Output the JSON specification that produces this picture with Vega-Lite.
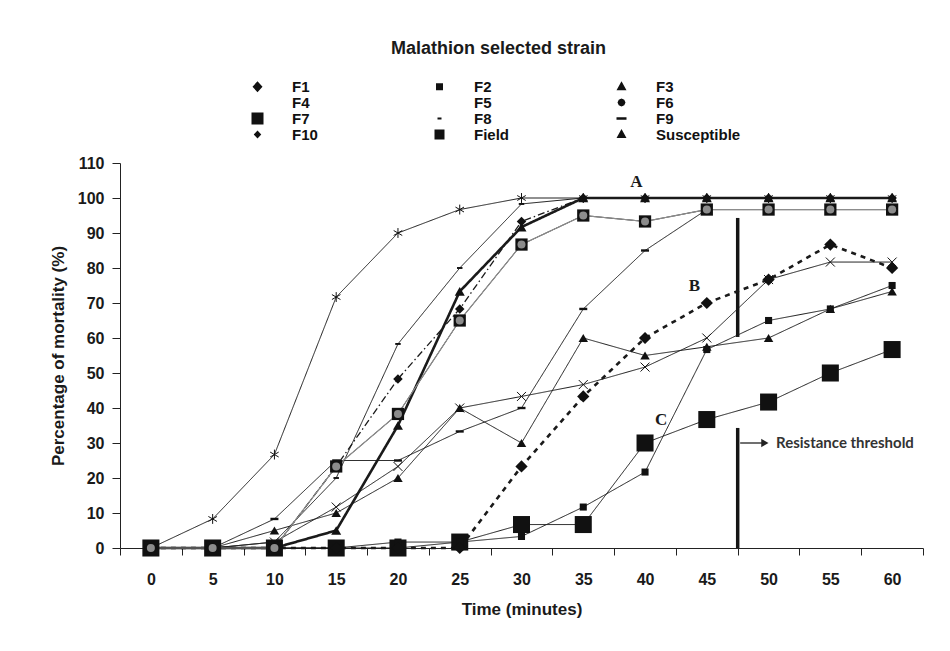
{
  "$schema": "https://vega.github.io/schema/vega-lite/v6.json",
  "width": 803,
  "height": 385,
  "autosize": {"type": "none"},
  "padding": {"left": 120, "top": 163, "right": 27, "bottom": 103},
  "background": "white",
  "config": {"view": {"stroke": null}, "font": "Liberation Sans"},
  "title": {"text": "Malathion selected strain", "font": "Liberation Sans", "fontSize": 18, "fontWeight": "bold", "color": "#1a1a1a", "anchor": "middle", "dx": -23, "offset": 21},
  "datasets": {
    "mort": [
      {"s":"F7","t":0,"v":0},{"s":"F7","t":5,"v":0},{"s":"F7","t":10,"v":0},{"s":"F7","t":15,"v":0},{"s":"F7","t":20,"v":0},{"s":"F7","t":25,"v":1.7},{"s":"F7","t":30,"v":6.7},{"s":"F7","t":35,"v":6.7},{"s":"F7","t":40,"v":30},{"s":"F7","t":45,"v":36.7},{"s":"F7","t":50,"v":41.7},{"s":"F7","t":55,"v":50},{"s":"F7","t":60,"v":56.7},
      {"s":"Field","t":0,"v":0},{"s":"Field","t":5,"v":0},{"s":"Field","t":10,"v":0},{"s":"Field","t":15,"v":23.3},{"s":"Field","t":20,"v":38.3},{"s":"Field","t":25,"v":65},{"s":"Field","t":30,"v":86.7},{"s":"Field","t":35,"v":95},{"s":"Field","t":40,"v":93.3},{"s":"Field","t":45,"v":96.7},{"s":"Field","t":50,"v":96.7},{"s":"Field","t":55,"v":96.7},{"s":"Field","t":60,"v":96.7},
      {"s":"F1","t":0,"v":0},{"s":"F1","t":5,"v":0},{"s":"F1","t":10,"v":0},{"s":"F1","t":15,"v":0},{"s":"F1","t":20,"v":0},{"s":"F1","t":25,"v":0},{"s":"F1","t":30,"v":23.3},{"s":"F1","t":35,"v":43.3},{"s":"F1","t":40,"v":60},{"s":"F1","t":45,"v":70},{"s":"F1","t":50,"v":76.7},{"s":"F1","t":55,"v":86.7},{"s":"F1","t":60,"v":80},
      {"s":"F2","t":0,"v":0},{"s":"F2","t":5,"v":0},{"s":"F2","t":10,"v":0},{"s":"F2","t":15,"v":0},{"s":"F2","t":20,"v":1.7},{"s":"F2","t":25,"v":1.7},{"s":"F2","t":30,"v":3.3},{"s":"F2","t":35,"v":11.7},{"s":"F2","t":40,"v":21.7},{"s":"F2","t":45,"v":56.7},{"s":"F2","t":50,"v":65},{"s":"F2","t":55,"v":68.3},{"s":"F2","t":60,"v":75},
      {"s":"F3","t":0,"v":0},{"s":"F3","t":5,"v":0},{"s":"F3","t":10,"v":5},{"s":"F3","t":15,"v":10},{"s":"F3","t":20,"v":20},{"s":"F3","t":25,"v":40},{"s":"F3","t":30,"v":30},{"s":"F3","t":35,"v":60},{"s":"F3","t":40,"v":55},{"s":"F3","t":45,"v":57.5},{"s":"F3","t":50,"v":60},{"s":"F3","t":55,"v":68.3},{"s":"F3","t":60,"v":73.3},
      {"s":"F4","t":0,"v":0},{"s":"F4","t":5,"v":0},{"s":"F4","t":10,"v":1.7},{"s":"F4","t":15,"v":11.7},{"s":"F4","t":20,"v":23.3},{"s":"F4","t":25,"v":40},{"s":"F4","t":30,"v":43.3},{"s":"F4","t":35,"v":46.7},{"s":"F4","t":40,"v":51.7},{"s":"F4","t":45,"v":60},{"s":"F4","t":50,"v":76.7},{"s":"F4","t":55,"v":81.7},{"s":"F4","t":60,"v":81.7},
      {"s":"F5","t":0,"v":0},{"s":"F5","t":5,"v":8.3},{"s":"F5","t":10,"v":26.7},{"s":"F5","t":15,"v":71.7},{"s":"F5","t":20,"v":90},{"s":"F5","t":25,"v":96.7},{"s":"F5","t":30,"v":100},{"s":"F5","t":35,"v":100},{"s":"F5","t":40,"v":100},{"s":"F5","t":45,"v":100},{"s":"F5","t":50,"v":100},{"s":"F5","t":55,"v":100},{"s":"F5","t":60,"v":100},
      {"s":"F8","t":0,"v":0},{"s":"F8","t":5,"v":0},{"s":"F8","t":10,"v":1.7},{"s":"F8","t":15,"v":20},{"s":"F8","t":20,"v":58.3},{"s":"F8","t":25,"v":80},{"s":"F8","t":30,"v":98.3},{"s":"F8","t":35,"v":100},{"s":"F8","t":40,"v":100},{"s":"F8","t":45,"v":100},{"s":"F8","t":50,"v":100},{"s":"F8","t":55,"v":100},{"s":"F8","t":60,"v":100},
      {"s":"F9","t":0,"v":0},{"s":"F9","t":5,"v":0},{"s":"F9","t":10,"v":8.3},{"s":"F9","t":15,"v":25},{"s":"F9","t":20,"v":25},{"s":"F9","t":25,"v":33.3},{"s":"F9","t":30,"v":40},{"s":"F9","t":35,"v":68.3},{"s":"F9","t":40,"v":85},{"s":"F9","t":45,"v":96.7},{"s":"F9","t":50,"v":96.7},{"s":"F9","t":55,"v":96.7},{"s":"F9","t":60,"v":96.7},
      {"s":"F10","t":0,"v":0},{"s":"F10","t":5,"v":0},{"s":"F10","t":10,"v":0},{"s":"F10","t":15,"v":23.3},{"s":"F10","t":20,"v":48.3},{"s":"F10","t":25,"v":68.3},{"s":"F10","t":30,"v":93.3},{"s":"F10","t":35,"v":100},{"s":"F10","t":40,"v":100},{"s":"F10","t":45,"v":100},{"s":"F10","t":50,"v":100},{"s":"F10","t":55,"v":100},{"s":"F10","t":60,"v":100},
      {"s":"Susceptible","t":0,"v":0},{"s":"Susceptible","t":5,"v":0},{"s":"Susceptible","t":10,"v":0},{"s":"Susceptible","t":15,"v":5},{"s":"Susceptible","t":20,"v":35},{"s":"Susceptible","t":25,"v":73.3},{"s":"Susceptible","t":30,"v":91.7},{"s":"Susceptible","t":35,"v":100},{"s":"Susceptible","t":40,"v":100},{"s":"Susceptible","t":45,"v":100},{"s":"Susceptible","t":50,"v":100},{"s":"Susceptible","t":55,"v":100},{"s":"Susceptible","t":60,"v":100},
      {"s":"F6","t":0,"v":0},{"s":"F6","t":5,"v":0},{"s":"F6","t":10,"v":0},{"s":"F6","t":15,"v":23.3},{"s":"F6","t":20,"v":38.3},{"s":"F6","t":25,"v":65},{"s":"F6","t":30,"v":86.7},{"s":"F6","t":35,"v":95},{"s":"F6","t":40,"v":93.3},{"s":"F6","t":45,"v":96.7},{"s":"F6","t":50,"v":96.7},{"s":"F6","t":55,"v":96.7},{"s":"F6","t":60,"v":96.7}
    ]
  },
  "encoding": {
    "x": {"field": "t", "type": "quantitative", "scale": {"domain": [-2.5, 62.5], "nice": false, "zero": false},
      "axis": {"values": [-2.5,0,2.5,5,7.5,10,12.5,15,17.5,20,22.5,25,27.5,30,32.5,35,37.5,40,42.5,45,47.5,50,52.5,55,57.5,60,62.5],
        "labelExpr": "datum.value % 5 === 0 ? datum.label : ''",
        "tickColor": {"condition": {"test": "datum.value % 5 === 0", "value": "transparent"}, "value": "#222"},
        "tickSize": 7, "grid": false, "domainColor": "#222", "labelFont": "Liberation Sans", "labelFontSize": 16, "labelFontWeight": "bold", "labelColor": "#1a1a1a", "labelPadding": 16, "labelOverlap": false, "labelFlush": false,
        "title": "Time (minutes)", "titleFont": "Liberation Sans", "titleFontSize": 17, "titleFontWeight": "bold", "titleColor": "#1a1a1a", "titlePadding": 14}},
    "y": {"field": "v", "type": "quantitative", "scale": {"domain": [0, 110], "nice": false},
      "axis": {"values": [0,10,20,30,40,50,60,70,80,90,100,110], "tickSize": 8, "grid": false, "domainColor": "#222", "tickColor": "#222", "labelFont": "Liberation Sans", "labelFontSize": 16, "labelFontWeight": "bold", "labelColor": "#1a1a1a", "labelPadding": 8,
        "title": "Percentage of mortality (%)", "titleFont": "Liberation Sans", "titleFontSize": 17, "titleFontWeight": "bold", "titleColor": "#1a1a1a", "titlePadding": 10}}
  },
  "layer": [
    {
      "data": {"name": "mort"},
      "mark": {"type": "point", "filled": true, "opacity": 0, "color": "#111", "stroke": "#111", "strokeWidth": 1.2},
      "encoding": {
        "shape": {"field": "s", "type": "nominal", "title": null,
          "scale": {"domain": ["F1","F4","F7","F10","F2","F5","F8","Field","F3","F6","F9","Susceptible"],
            "range": [
              "M-5,0H-4M-2.2,0H-1M1,0H2.2M4,0H5M-1,0L0,-1.1L1,0L0,1.1Z",
              "M-5,0H5M-0.8,-0.8L0.8,0.8M-0.8,0.8L0.8,-0.8",
              "M-5,0H5M-1.2,-1.2H1.2V1.2H-1.2Z",
              "M-5,0H-3.2M-2.2,0H-1.8M-1.3,0H1.3M1.8,0H2.2M3,0H3.4M4.2,0H4.6M-0.75,0L0,-0.8L0.75,0L0,0.8Z",
              "M-5,0H5M-0.7,-0.7H0.7V0.7H-0.7Z",
              "M-5,0H5M0,-1V1M-0.85,-0.5L0.85,0.5M-0.85,0.5L0.85,-0.5",
              "M-5,0H5M-0.4,-0.2H0.4V0.2H-0.4Z",
              "M-5,0H5M-1,-1H1V1H-1Z",
              "M-5,0H5M0,-1.1L1,0.7H-1Z",
              "M-5,0H5M-0.8,0L-0.55,-0.55L0,-0.8L0.55,-0.55L0.8,0L0.55,0.55L0,0.8L-0.55,0.55Z",
              "M-5,0H5M-1,-0.25H1V0.25H-1Z",
              "M-5,0H5M0,-1.1L1,0.7H-1Z"
            ]},
          "legend": {"orient": "none", "legendX": 130, "legendY": -84, "columns": 3, "gridAlign": "all", "columnPadding": 35, "rowPadding": -1.5, "padding": 0,
            "symbolSize": 100, "symbolStrokeWidth": 1.2, "symbolFillColor": "#111", "symbolStrokeColor": "#111", "symbolOpacity": 1,
            "labelFont": "Liberation Sans", "labelFontSize": 15, "labelFontWeight": "bold", "labelColor": "#111", "labelOffset": 27, "labelLimit": 200,
            "encode": {"symbols": {"stroke": {"value": "#111"}, "strokeWidth": {"value": 1.2}, "fill": {"value": "#111"}}}}
        }
      }
    },
    {
      "data": {"values": [{"t": 47.5, "v": 60.3, "v2": 94.3}, {"t": 47.5, "v": 0, "v2": 34.3}]},
      "mark": {"type": "rule", "strokeWidth": 3.5, "color": "#151515"},
      "encoding": {"y2": {"field": "v2"}}
    },
    {
      "data": {"name": "mort"},
      "mark": {"type": "line", "strokeCap": "butt"},
      "encoding": {
        "stroke": {"field": "s", "type": "nominal", "legend": null, "scale": {"domain": ["F1","F2","F3","F4","F5","F6","F7","F8","F9","F10","Field","Susceptible"], "range": ["#1a1a1a","#1a1a1a","#1a1a1a","#1a1a1a","#1a1a1a","#8c8c8c","#1a1a1a","#1a1a1a","#1a1a1a","#1a1a1a","#1a1a1a","#1a1a1a"]}},
        "strokeDash": {"field": "s", "type": "nominal", "legend": null, "scale": {"domain": ["F1","F2","F3","F4","F5","F6","F7","F8","F9","F10","Field","Susceptible"], "range": [[5,5],[1,0],[1,0],[1,0],[1,0],[1,0],[1,0],[1,0],[1,0],[7,3,1.5,3],[1,0],[1,0]]}},
        "strokeWidth": {"field": "s", "type": "nominal", "legend": null, "scale": {"type": "ordinal", "domain": ["F1","F2","F3","F4","F5","F6","F7","F8","F9","F10","Field","Susceptible"], "range": [2.6,1,1,1,1,1.2,1,1,1,1.3,1,2.6]}}
      }
    },
    {"data": {"name": "mort"}, "transform": [{"filter": {"field": "s", "equal": "F7"}}], "mark": {"type": "point", "shape": "square", "filled": true, "size": 290, "color": "#111", "opacity": 1}},
    {"data": {"name": "mort"}, "transform": [{"filter": {"field": "s", "equal": "Field"}}], "mark": {"type": "point", "shape": "square", "filled": true, "size": 150, "color": "#111", "opacity": 1}},
    {"data": {"name": "mort"}, "transform": [{"filter": {"field": "s", "equal": "F2"}}], "mark": {"type": "point", "shape": "square", "filled": true, "size": 50, "color": "#111", "opacity": 1}},
    {"data": {"name": "mort"}, "transform": [{"filter": {"field": "s", "equal": "F3"}}], "mark": {"type": "point", "shape": "triangle-up", "filled": true, "size": 90, "color": "#111", "opacity": 1}},
    {"data": {"name": "mort"}, "transform": [{"filter": {"field": "s", "equal": "F4"}}], "mark": {"type": "point", "shape": "M-1,-1L1,1M-1,1L1,-1", "filled": false, "size": 81, "color": "#111", "strokeWidth": 1, "opacity": 1}},
    {"data": {"name": "mort"}, "transform": [{"filter": {"field": "s", "equal": "F5"}}], "mark": {"type": "point", "shape": "M0,-1.1V1.1M-0.95,-0.55L0.95,0.55M-0.95,0.55L0.95,-0.55", "filled": false, "size": 81, "color": "#111", "strokeWidth": 1, "opacity": 1}},
    {"data": {"name": "mort"}, "transform": [{"filter": {"field": "s", "equal": "F8"}}], "mark": {"type": "point", "shape": "M-1,-0.35H1V0.35H-1Z", "filled": true, "size": 30, "color": "#111", "opacity": 1}},
    {"data": {"name": "mort"}, "transform": [{"filter": {"field": "s", "equal": "F9"}}], "mark": {"type": "point", "shape": "M-1,-0.3H1V0.3H-1Z", "filled": true, "size": 64, "color": "#111", "opacity": 1}},
    {"data": {"name": "mort"}, "transform": [{"filter": {"field": "s", "equal": "F10"}}], "mark": {"type": "point", "shape": "diamond", "filled": true, "size": 90, "color": "#111", "opacity": 1}},
    {"data": {"name": "mort"}, "transform": [{"filter": {"field": "s", "equal": "F1"}}], "mark": {"type": "point", "shape": "diamond", "filled": true, "size": 150, "color": "#111", "opacity": 1}},
    {"data": {"name": "mort"}, "transform": [{"filter": {"field": "s", "equal": "Susceptible"}}], "mark": {"type": "point", "shape": "triangle-up", "filled": true, "size": 100, "color": "#111", "opacity": 1}},
    {"data": {"name": "mort"}, "transform": [{"filter": {"field": "s", "equal": "F6"}}], "mark": {"type": "point", "shape": "circle", "filled": true, "size": 64, "color": "#8c8c8c", "opacity": 1}},
    {
      "data": {"values": [{"t": 47.7, "t2": 49.5, "v": 30}]},
      "mark": {"type": "rule", "strokeWidth": 1.3, "color": "#222"},
      "encoding": {"x2": {"field": "t2"}}
    },
    {
      "data": {"values": [{"t": 49.7, "v": 30}]},
      "mark": {"type": "point", "shape": "triangle-right", "filled": true, "size": 70, "color": "#222", "opacity": 1}
    },
    {
      "data": {"values": [{"label": "Resistance threshold", "t": 50.6, "v": 30}]},
      "mark": {"type": "text", "align": "left", "baseline": "middle", "font": "Lato", "fontWeight": "bold", "fontSize": 15, "color": "#333"},
      "encoding": {"text": {"field": "label"}}
    },
    {
      "data": {"values": [{"label": "A", "t": 39.3, "v": 104.6}, {"label": "B", "t": 44.0, "v": 74.9}, {"label": "C", "t": 41.3, "v": 36.6}]},
      "mark": {"type": "text", "align": "center", "baseline": "middle", "font": "Liberation Serif", "fontWeight": "bold", "fontSize": 17, "color": "#1a1a1a"},
      "encoding": {"text": {"field": "label"}}
    }
  ]
}
